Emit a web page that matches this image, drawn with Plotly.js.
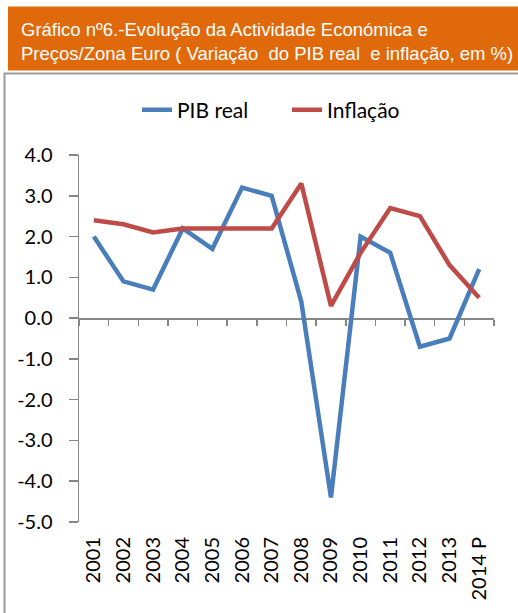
<!DOCTYPE html>
<html>
<head>
<meta charset="utf-8">
<script src="https://cdn.plot.ly/plotly-3.0.1.min.js"></script>
<style>
  html, body { margin: 0; padding: 0; background: #ffffff; }
  #chart { width: 518px; height: 613px; }
</style>
</head>
<body>
<div id="chart"></div>
<script>
const years = ["2001","2002","2003","2004","2005","2006","2007","2008","2009","2010","2011","2012","2013","2014 P"];
const pibReal = [2.0, 0.9, 0.7, 2.2, 1.7, 3.2, 3.0, 0.4, -4.4, 2.0, 1.6, -0.7, -0.5, 1.2];
const inflacao = [2.4, 2.3, 2.1, 2.2, 2.2, 2.2, 2.2, 3.3, 0.3, 1.6, 2.7, 2.5, 1.3, 0.5];
const yTickVals = [-5, -4, -3, -2, -1, 0, 1, 2, 3, 4];
const yTickText = ["-5.0", "-4.0", "-3.0", "-2.0", "-1.0", "0.0", "1.0", "2.0", "3.0", "4.0"];

const W = 518, H = 613;
const L = 79, R = 494, T = 155, B = 522;
const px = v => (v - L) / (R - L);
const py = v => (B - v) / (B - T);

const gray = "#868686";
const tickFont = { family: "Lato, 'Open Sans', sans-serif", size: 20, color: "#000000" };

const traces = [
  {
    x: years, y: pibReal, name: "PIB real", type: "scatter", mode: "lines",
    line: { color: "#4A7EBB", width: 4.5 }, xaxis: "x", yaxis: "y"
  },
  {
    x: years, y: inflacao, name: "Inflação", type: "scatter", mode: "lines",
    line: { color: "#BE4B48", width: 4.5 }, xaxis: "x", yaxis: "y"
  },
  {
    x: years, y: years.map(() => 0), type: "scatter", mode: "lines",
    line: { color: "rgba(0,0,0,0)", width: 0 }, showlegend: false, hoverinfo: "skip",
    xaxis: "x2", yaxis: "y"
  }
];

const layout = {
  width: W, height: H,
  margin: { l: L, r: W - R, t: T, b: H - B, pad: 0 },
  paper_bgcolor: "#ffffff", plot_bgcolor: "#ffffff",
  showlegend: true,
  title: {
    text: "Gráfico nº6.-Evolução da Actividade Económica e<br>Preços/Zona Euro ( Variação  do PIB real  e inflação, em %)",
    font: { family: "'Liberation Sans', Arial, sans-serif", size: 18.5, color: "#ffffff" },
    xref: "container", yref: "container",
    x: 21 / W, xanchor: "left",
    y: 1 - 36 / H, yanchor: "top"
  },
  legend: {
    orientation: "h", x: px(142) - 5 / (R - L), xanchor: "left", y: py(110), yanchor: "middle",
    font: { family: "Lato, 'Open Sans', sans-serif", size: 21, color: "#000000" },
    bgcolor: "rgba(0,0,0,0)", entrywidth: 105, entrywidthmode: "pixels"
  },
  xaxis: {
    type: "category", range: [-0.5, years.length - 0.5],
    showline: false, showgrid: false, zeroline: false, ticks: "",
    tickangle: -90, tickfont: tickFont, ticklabelstandoff: 10,
    fixedrange: true
  },
  xaxis2: {
    type: "category", overlaying: "x", anchor: "free", position: 5 / 9,
    range: [-0.5, years.length - 0.5],
    showline: true, linecolor: gray, linewidth: 1.5,
    ticks: "outside", ticklen: 6, tickcolor: gray, tickwidth: 1.5, tickson: "boundaries",
    showticklabels: false, showgrid: false, zeroline: false, layer: "below traces",
    fixedrange: true
  },
  yaxis: {
    range: [-5, 4], tickmode: "array", tickvals: yTickVals, ticktext: yTickText,
    showline: true, linecolor: gray, linewidth: 1.5,
    ticks: "outside", ticklen: 9, tickcolor: gray, tickwidth: 1.5,
    showgrid: false, zeroline: false, tickfont: tickFont, ticklabelstandoff: 12,
    layer: "below traces", fixedrange: true
  },
  shapes: [
    {
      type: "rect", xref: "paper", yref: "paper", layer: "below",
      x0: px(8), x1: px(530), y0: py(70.5), y1: py(6.5),
      fillcolor: "#E06A0B", line: { width: 0 }
    },
    {
      type: "path", xref: "paper", yref: "paper", layer: "below",
      path: "M " + px(4.5) + " " + py(625) + " L " + px(4.5) + " " + py(73.5) + " L " + px(530) + " " + py(73.5),
      line: { color: "#9A9A9A", width: 2 }
    }
  ]
};

Plotly.newPlot("chart", traces, layout, { displayModeBar: false, staticPlot: true });
</script>
</body>
</html>
